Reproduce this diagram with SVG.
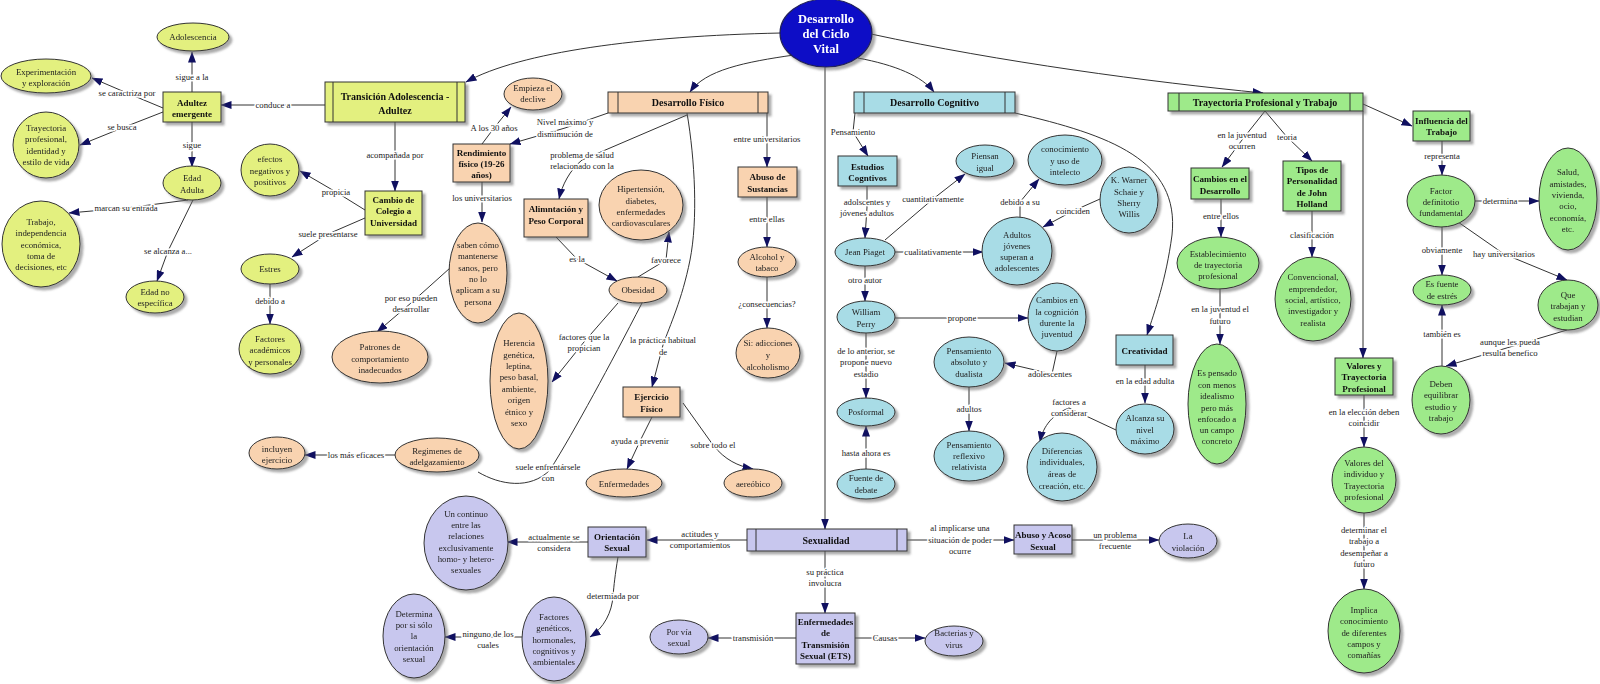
<svg xmlns="http://www.w3.org/2000/svg" width="1600" height="684" viewBox="0 0 1600 684">
<style>
text{font-family:"Liberation Serif","Times New Roman",serif;text-anchor:middle;fill:#222}
.n{font-size:8.8px}
.b{font-size:9px;font-weight:bold;fill:#111}
.t{font-size:10px;font-weight:bold;fill:#111}
.r{font-size:12.5px;font-weight:bold;fill:#fff}
.l{font-size:8.7px;fill:#222;paint-order:stroke;stroke:#fff;stroke-width:3px;stroke-linejoin:round}
.k{fill:none;stroke:#333;stroke-width:1}
.a{marker-end:url(#ar)}
.s{stroke:#333;stroke-width:1}
.bar{stroke:#333;stroke-width:1}
.g1{fill:#e3f07f}
.g2{fill:#9eea8a}
.p{fill:#f9d3b0}
.c{fill:#a8dce6}
.v{fill:#c8c7ee}
.nd{filter:url(#sh)}
</style>
<defs>
<filter id="sh" x="-20%" y="-20%" width="150%" height="150%">
<feDropShadow dx="3" dy="3" stdDeviation="1" flood-color="#666" flood-opacity="0.55"/>
</filter>
<marker id="ar" markerWidth="11" markerHeight="8" refX="10.5" refY="4" orient="auto" markerUnits="userSpaceOnUse">
<path d="M0,0 L11,4 L0,8 Z" fill="#101060"/>
</marker>
</defs>
<rect width="1600" height="684" fill="#fff"/>

<g id="connectors">
<!-- root -->
<path class="k a" d="M781,33 C640,36 520,52 466,82"/>
<path class="k a" d="M794,55 C745,62 705,70 690,92"/>
<path class="k a" d="M858,58 C895,65 922,76 934,92"/>
<path class="k a" d="M871,34 C1000,62 1150,82 1263,93"/>
<path class="k a" d="M825,67 L825,529"/>
<!-- transicion -->
<path class="k a" d="M325,105 L221,105"/>
<text class="l" x="273" y="108">conduce a</text>
<path class="k a" d="M395,122 L395,191"/>
<text class="l" x="395" y="158">acompañada por</text>
<!-- adultez emergente -->
<path class="k a" d="M192,92 L192,52"/>
<text class="l" x="192" y="80">sigue a la</text>
<path class="k a" d="M163,108 L127,93 L92,78"/>
<text class="l" x="127" y="96">se caractriza por</text>
<path class="k a" d="M163,112 L122,128 L80,145"/>
<text class="l" x="122" y="130">se busca</text>
<path class="k a" d="M192,122 L192,167"/>
<text class="l" x="192" y="148">sigue</text>
<!-- edad adulta -->
<path class="k a" d="M188,200 L126,208 L69,213"/>
<text class="l" x="126" y="211">marcan su entrada</text>
<path class="k a" d="M193,200 L168,251 L157,281"/>
<text class="l" x="168" y="254">se alcanza a...</text>
<!-- cambio colegio -->
<path class="k a" d="M365,210 L336,192 L300,171"/>
<text class="l" x="336" y="195">propicia</text>
<path class="k a" d="M365,218 L328,234 L292,257"/>
<text class="l" x="328" y="237">suele presentarse</text>
<path class="k a" d="M270,284 L270,324"/>
<text class="l" x="270" y="304">debido a</text>
<!-- desarrollo fisico -->
<path class="k a" d="M608,113 L565,128 L510,144"/>
<text class="l" x="565" y="125">Nivel máximo y</text>
<text class="l" x="565" y="137">dismimución de</text>
<path class="k a" d="M482,144 L494,128 L511,107"/>
<text class="l" x="494" y="131">A los 30 años</text>
<path class="k a" d="M482,182 L482,222"/>
<text class="l" x="482" y="201">los universitarios</text>
<path class="k a" d="M450,268 L411,303 L377,332"/>
<text class="l" x="411" y="301">por eso pueden</text>
<text class="l" x="411" y="312">desarrollar</text>
<path class="k a" d="M687,115 L582,160 C570,170 562,185 559,199"/>
<text class="l" x="582" y="158">problema de salud</text>
<text class="l" x="582" y="169">relacionado con la</text>
<path class="k a" d="M556,237 L577,259 L617,281"/>
<text class="l" x="577" y="262">es la</text>
<path class="k a" d="M638,277 L666,260 L669,232"/>
<text class="l" x="666" y="263">favorece</text>
<path class="k a" d="M618,303 L584,342 L552,382"/>
<text class="l" x="584" y="340">factores que la</text>
<text class="l" x="584" y="351">propician</text>
<path class="k" d="M642,303 C610,365 575,430 550,470 C530,490 500,485 478,472"/>
<text class="l" x="548" y="470">suele enfrentársele</text>
<text class="l" x="548" y="481">con</text>
<path class="k a" d="M687,113 C695,160 698,220 690,260 C682,300 670,325 663,345 L652,387"/>
<text class="l" x="663" y="343">la práctica habitual</text>
<text class="l" x="663" y="355">de</text>
<path class="k a" d="M652,417 L640,441 L627,469"/>
<text class="l" x="640" y="444">ayuda a prevenir</text>
<path class="k a" d="M683,403 L713,445 C725,460 738,466 753,469"/>
<text class="l" x="713" y="448">sobre todo el</text>
<path class="k a" d="M396,455 L305,455"/>
<text class="l" x="356" y="458">los más eficaces</text>
<path class="k a" d="M767,113 L767,167"/>
<text class="l" x="767" y="142">entre universitarios</text>
<path class="k a" d="M767,197 L767,247"/>
<text class="l" x="767" y="222">entre ellas</text>
<path class="k a" d="M767,277 L767,328"/>
<text class="l" x="767" y="307">¿consecuencias?</text>
<!-- cognitivo -->
<path class="k a" d="M855,113 L853,132 L868,156"/>
<text class="l" x="853" y="135">Pensamiento</text>
<path class="k a" d="M867,186 L867,207 L865,238"/>
<text class="l" x="867" y="205">adolscentes y</text>
<text class="l" x="867" y="216">jóvenes adultos</text>
<path class="k a" d="M885,240 L933,199 L965,174"/>
<text class="l" x="933" y="202">cuantitativamente</text>
<path class="k a" d="M895,252 L983,252"/>
<text class="l" x="933" y="255">cualitativamente</text>
<path class="k a" d="M1020,217 L1020,202 L1039,179"/>
<text class="l" x="1020" y="205">debido a su</text>
<path class="k a" d="M1100,199 L1073,211 L1043,227"/>
<text class="l" x="1073" y="214">coinciden</text>
<path class="k a" d="M865,266 L865,301"/>
<text class="l" x="865" y="283">otro autor</text>
<path class="k a" d="M895,318 L1028,318"/>
<text class="l" x="962" y="321">propone</text>
<path class="k a" d="M1057,351 L1052,374 L1005,363"/>
<text class="l" x="1050" y="377">adolescentes</text>
<path class="k a" d="M969,387 L969,431"/>
<text class="l" x="969" y="412">adultos</text>
<path class="k a" d="M866,333 L866,398"/>
<text class="l" x="866" y="354">de lo anterior, se</text>
<text class="l" x="866" y="365">propone nuevo</text>
<text class="l" x="866" y="377">estadio</text>
<path class="k a" d="M866,469 L866,426"/>
<text class="l" x="866" y="456">hasta ahora es</text>
<path class="k a" d="M1015,113 C1110,135 1180,160 1172,235 C1166,280 1155,310 1147,335"/>
<path class="k a" d="M1145,365 L1145,403"/>
<text class="l" x="1145" y="384">en la edad adulta</text>
<path class="k a" d="M1116,430 L1069,408 C1050,415 1042,430 1040,442"/>
<text class="l" x="1069" y="405">factores a</text>
<text class="l" x="1069" y="416">considerar</text>
<!-- trayectoria -->
<path class="k a" d="M1265,111 L1242,140 L1222,167"/>
<text class="l" x="1242" y="138">en la juventud</text>
<text class="l" x="1242" y="149">ocurren</text>
<path class="k a" d="M1265,111 L1287,137 L1312,161"/>
<text class="l" x="1287" y="140">teoria</text>
<path class="k a" d="M1363,111 L1363,358"/>
<path class="k a" d="M1363,104 L1412,126"/>
<path class="k a" d="M1221,199 L1221,237"/>
<text class="l" x="1221" y="219">entre ellos</text>
<path class="k a" d="M1220,289 L1220,344"/>
<text class="l" x="1220" y="312">en la juventud el</text>
<text class="l" x="1220" y="324">futuro</text>
<path class="k a" d="M1312,211 L1312,257"/>
<text class="l" x="1312" y="238">clasificación</text>
<path class="k a" d="M1364,395 L1364,447"/>
<text class="l" x="1364" y="415">en la elección deben</text>
<text class="l" x="1364" y="426">coincidir</text>
<path class="k a" d="M1364,513 L1364,589"/>
<text class="l" x="1364" y="533">determinar el</text>
<text class="l" x="1364" y="544">trabajo a</text>
<text class="l" x="1364" y="556">desempeñar a</text>
<text class="l" x="1364" y="567">futuro</text>
<path class="k a" d="M1442,141 L1442,175"/>
<text class="l" x="1442" y="159">representa</text>
<path class="k a" d="M1475,201 L1539,201"/>
<text class="l" x="1500" y="204">determina</text>
<path class="k a" d="M1442,227 L1442,275"/>
<text class="l" x="1442" y="253">obviamente</text>
<path class="k a" d="M1458,222 L1504,254 L1567,280"/>
<text class="l" x="1504" y="257">hay universitarios</text>
<path class="k a" d="M1442,366 L1442,305"/>
<text class="l" x="1442" y="337">también es</text>
<path class="k a" d="M1567,330 L1510,347 L1446,366"/>
<text class="l" x="1510" y="345">aunque les pueda</text>
<text class="l" x="1510" y="356">resulta benefico</text>
<!-- sexualidad -->
<path class="k a" d="M747,540 L700,540 L647,540"/>
<text class="l" x="700" y="537">actitudes y</text>
<text class="l" x="700" y="548">comportamientos</text>
<path class="k a" d="M588,542 L507,542"/>
<text class="l" x="554" y="540">actualmente se</text>
<text class="l" x="554" y="551">considera</text>
<path class="k a" d="M618,557 C615,575 614,585 613,596 C612,612 604,628 590,637"/>
<text class="l" x="613" y="599">determiada por</text>
<path class="k a" d="M522,637 L445,637"/>
<text class="l" x="488" y="637">ninguno de los</text>
<text class="l" x="488" y="648">cuales</text>
<path class="k a" d="M907,540 L1014,540"/>
<text class="l" x="960" y="531">al implicarse una</text>
<text class="l" x="960" y="543">situación de poder</text>
<text class="l" x="960" y="554">ocurre</text>
<path class="k a" d="M1072,540 L1159,540"/>
<text class="l" x="1115" y="538">un problema</text>
<text class="l" x="1115" y="549">frecuente</text>
<path class="k a" d="M825,551 L825,613"/>
<text class="l" x="825" y="575">su práctica</text>
<text class="l" x="825" y="586">involucra</text>
<path class="k a" d="M796,638 L708,638"/>
<text class="l" x="753" y="641">transmisión</text>
<path class="k a" d="M855,638 L925,638"/>
<text class="l" x="885" y="641">Causas</text>
</g>

<!-- ROOT -->
<g id="root" class="nd">
<ellipse cx="826" cy="33" rx="46" ry="34" fill="#0b0bc6" stroke="#22225a" stroke-width="1.2"/>
<text class="r"><tspan x="826" y="23">Desarrollo</tspan><tspan x="826" y="38">del Ciclo</tspan><tspan x="826" y="53">Vital</tspan></text>
</g>

<!-- Yellow-green branch -->
<g id="transicion" class="nd">
<rect class="g1 s" x="325" y="82" width="140" height="40"/>
<line class="bar" x1="333" y1="82" x2="333" y2="122"/><line class="bar" x1="457" y1="82" x2="457" y2="122"/>
<text class="t"><tspan x="395" y="100">Transición Adolescencia -</tspan><tspan x="395" y="114">Adultez</tspan></text>
</g>
<g id="adultez-emergente" class="nd">
<rect class="g1 s" x="163" y="92" width="58" height="30"/>
<text class="b"><tspan x="192" y="106">Adultez</tspan><tspan x="192" y="117">emergente</tspan></text>
</g>
<g id="adolescencia" class="nd">
<ellipse class="g1 s" cx="193" cy="37" rx="36" ry="14"/>
<text class="n" x="193" y="40">Adolescencia</text>
</g>
<g id="experimentacion" class="nd">
<ellipse class="g1 s" cx="46" cy="76" rx="45" ry="17"/>
<text class="n"><tspan x="46" y="75">Experimentación</tspan><tspan x="46" y="86">y exploración</tspan></text>
</g>
<g id="trayectoria-identidad" class="nd">
<ellipse class="g1 s" cx="46" cy="145" rx="33" ry="33"/>
<text class="n"><tspan x="46" y="131">Trayectoria</tspan><tspan x="46" y="142">profesional,</tspan><tspan x="46" y="154">identidad y</tspan><tspan x="46" y="165">estilo de vida</tspan></text>
</g>
<g id="edad-adulta" class="nd">
<ellipse class="g1 s" cx="192" cy="183" rx="29" ry="17"/>
<text class="n"><tspan x="192" y="181">Edad</tspan><tspan x="192" y="193">Adulta</tspan></text>
</g>
<g id="trabajo" class="nd">
<ellipse class="g1 s" cx="41" cy="244" rx="39" ry="43"/>
<text class="n"><tspan x="41" y="225">Trabajo,</tspan><tspan x="41" y="236">independencia</tspan><tspan x="41" y="248">económica,</tspan><tspan x="41" y="259">toma de</tspan><tspan x="41" y="270">decisiones, etc</tspan></text>
</g>
<g id="edad-no-especifica" class="nd">
<ellipse class="g1 s" cx="155" cy="297" rx="29" ry="16"/>
<text class="n"><tspan x="155" y="295">Edad no</tspan><tspan x="155" y="306">específica</tspan></text>
</g>
<g id="cambio-colegio" class="nd">
<rect class="g1 s" x="365" y="191" width="57" height="44"/>
<text class="b"><tspan x="393.5" y="203">Cambio de</tspan><tspan x="393.5" y="214">Colegio a</tspan><tspan x="393.5" y="226">Universidad</tspan></text>
</g>
<g id="efectos" class="nd">
<ellipse class="g1 s" cx="270" cy="170" rx="29" ry="26"/>
<text class="n"><tspan x="270" y="162">efectos</tspan><tspan x="270" y="174">negativos y</tspan><tspan x="270" y="185">positivos</tspan></text>
</g>
<g id="estres" class="nd">
<ellipse class="g1 s" cx="270" cy="269" rx="29" ry="15"/>
<text class="n" x="270" y="272">Estres</text>
</g>
<g id="factores-academicos" class="nd">
<ellipse class="g1 s" cx="270" cy="349" rx="31" ry="25"/>
<text class="n"><tspan x="270" y="342">Factores</tspan><tspan x="270" y="353">académicos</tspan><tspan x="270" y="365">y personales</tspan></text>
</g>

<!-- Peach branch -->
<g id="desarrollo-fisico" class="nd">
<rect class="p s" x="608" y="92" width="160" height="21"/>
<line class="bar" x1="618" y1="92" x2="618" y2="113"/><line class="bar" x1="758" y1="92" x2="758" y2="113"/>
<text class="t" x="688" y="106">Desarrollo Físico</text>
</g>
<g id="empieza-declive" class="nd">
<ellipse class="p s" cx="533" cy="94" rx="29" ry="16"/>
<text class="n"><tspan x="533" y="91">Empieza el</tspan><tspan x="533" y="102">declive</tspan></text>
</g>
<g id="rendimiento" class="nd">
<rect class="p s" x="453" y="144" width="57" height="38"/>
<text class="b"><tspan x="481.5" y="156">Rendimiento</tspan><tspan x="481.5" y="167">físico (19-26</tspan><tspan x="481.5" y="178">años)</tspan></text>
</g>
<g id="saben-como" class="nd">
<ellipse class="p s" cx="478" cy="273" rx="29" ry="50"/>
<text class="n"><tspan x="478" y="248">saben cómo</tspan><tspan x="478" y="259">mantenerse</tspan><tspan x="478" y="271">sanos, pero</tspan><tspan x="478" y="282">no lo</tspan><tspan x="478" y="293">aplicam a su</tspan><tspan x="478" y="305">persona</tspan></text>
</g>
<g id="patrones" class="nd">
<ellipse class="p s" cx="380" cy="357" rx="48" ry="26"/>
<text class="n"><tspan x="380" y="350">Patrones de</tspan><tspan x="380" y="362">comportamiento</tspan><tspan x="380" y="373">inadecuados</tspan></text>
</g>
<g id="alimentacion" class="nd">
<rect class="p s" x="524" y="199" width="64" height="38"/>
<text class="b"><tspan x="556" y="212">Alimntación y</tspan><tspan x="556" y="224">Peso Corporal</tspan></text>
</g>
<g id="hipertension" class="nd">
<ellipse class="p s" cx="641" cy="205" rx="42" ry="35"/>
<text class="n"><tspan x="641" y="192">Hipertensión,</tspan><tspan x="641" y="204">diabetes,</tspan><tspan x="641" y="215">enfermedades</tspan><tspan x="641" y="226">cardiovasculares</tspan></text>
</g>
<g id="obesidad" class="nd">
<ellipse class="p s" cx="638" cy="290" rx="29" ry="13"/>
<text class="n" x="638" y="293">Obesidad</text>
</g>
<g id="herencia" class="nd">
<ellipse class="p s" cx="519" cy="381" rx="29" ry="68"/>
<text class="n"><tspan x="519" y="346">Herencia</tspan><tspan x="519" y="358">genética,</tspan><tspan x="519" y="369">leptina,</tspan><tspan x="519" y="380">peso basal,</tspan><tspan x="519" y="392">ambiente,</tspan><tspan x="519" y="403">origen</tspan><tspan x="519" y="415">étnico y</tspan><tspan x="519" y="426">sexo</tspan></text>
</g>
<g id="ejercicio" class="nd">
<rect class="p s" x="623" y="387" width="57" height="30"/>
<text class="b"><tspan x="651.5" y="400">Ejercicio</tspan><tspan x="651.5" y="412">Físico</tspan></text>
</g>
<g id="enfermedades" class="nd">
<ellipse class="p s" cx="624" cy="483" rx="38" ry="14"/>
<text class="n" x="624" y="487">Enfermedades</text>
</g>
<g id="aereobico" class="nd">
<ellipse class="p s" cx="753" cy="483" rx="29" ry="14"/>
<text class="n" x="753" y="487">aereóbico</text>
</g>
<g id="regimenes" class="nd">
<ellipse class="p s" cx="437" cy="455" rx="42" ry="17"/>
<text class="n"><tspan x="437" y="454">Regimenes de</tspan><tspan x="437" y="465">adelgazamiento</tspan></text>
</g>
<g id="incluyen-ejercicio" class="nd">
<ellipse class="p s" cx="277" cy="453" rx="28" ry="16"/>
<text class="n"><tspan x="277" y="452">incluyen</tspan><tspan x="277" y="463">ejercicio</tspan></text>
</g>
<g id="abuso-sustancias" class="nd">
<rect class="p s" x="738" y="167" width="59" height="30"/>
<text class="b"><tspan x="767.5" y="180">Abuso de</tspan><tspan x="767.5" y="192">Sustancias</tspan></text>
</g>
<g id="alcohol" class="nd">
<ellipse class="p s" cx="767" cy="262" rx="29" ry="15"/>
<text class="n"><tspan x="767" y="260">Alcohol y</tspan><tspan x="767" y="271">tabaco</tspan></text>
</g>
<g id="adicciones" class="nd">
<ellipse class="p s" cx="768" cy="353" rx="32" ry="25"/>
<text class="n"><tspan x="768" y="346">Si: adicciones</tspan><tspan x="768" y="358">y</tspan><tspan x="768" y="370">alcoholismo</tspan></text>
</g>

<!-- Blue branch -->
<g id="desarrollo-cognitivo" class="nd">
<rect class="c s" x="854" y="92" width="161" height="21"/>
<line class="bar" x1="864" y1="92" x2="864" y2="113"/><line class="bar" x1="1005" y1="92" x2="1005" y2="113"/>
<text class="t" x="934.5" y="106">Desarrollo Cognitivo</text>
</g>
<g id="estudios-cognitivos" class="nd">
<rect class="c s" x="838" y="156" width="59" height="30"/>
<text class="b"><tspan x="867.5" y="170">Estudios</tspan><tspan x="867.5" y="181">Cogntivos</tspan></text>
</g>
<g id="piensan-igual" class="nd">
<ellipse class="c s" cx="985" cy="161" rx="29" ry="16"/>
<text class="n"><tspan x="985" y="159">Piensan</tspan><tspan x="985" y="171">igual</tspan></text>
</g>
<g id="conocimiento" class="nd">
<ellipse class="c s" cx="1065" cy="160" rx="37" ry="25"/>
<text class="n"><tspan x="1065" y="152">conocimiento</tspan><tspan x="1065" y="164">y uso de</tspan><tspan x="1065" y="175">intelecto</tspan></text>
</g>
<g id="schaie-willis" class="nd">
<ellipse class="c s" cx="1129" cy="200" rx="29" ry="33"/>
<text class="n"><tspan x="1129" y="183">K. Warner</tspan><tspan x="1129" y="195">Schaie y</tspan><tspan x="1129" y="206">Sherry</tspan><tspan x="1129" y="217">Willis</tspan></text>
</g>
<g id="adultos-jovenes" class="nd">
<ellipse class="c s" cx="1017" cy="251" rx="35" ry="34"/>
<text class="n"><tspan x="1017" y="238">Adultos</tspan><tspan x="1017" y="249">jóvenes</tspan><tspan x="1017" y="260">superan a</tspan><tspan x="1017" y="271">adolescentes</tspan></text>
</g>
<g id="jean-piaget" class="nd">
<ellipse class="c s" cx="865" cy="252" rx="30" ry="14"/>
<text class="n" x="865" y="255">Jean Piaget</text>
</g>
<g id="william-perry" class="nd">
<ellipse class="c s" cx="866" cy="317" rx="29" ry="16"/>
<text class="n"><tspan x="866" y="315">William</tspan><tspan x="866" y="327">Perry</tspan></text>
</g>
<g id="cambios-cognicion" class="nd">
<ellipse class="c s" cx="1057" cy="317" rx="29" ry="34"/>
<text class="n"><tspan x="1057" y="303">Cambios en</tspan><tspan x="1057" y="315">la cognición</tspan><tspan x="1057" y="326">durente la</tspan><tspan x="1057" y="337">juventud</tspan></text>
</g>
<g id="pensamiento-absoluto" class="nd">
<ellipse class="c s" cx="969" cy="362" rx="35" ry="25"/>
<text class="n"><tspan x="969" y="354">Pensamiento</tspan><tspan x="969" y="365">absoluto y</tspan><tspan x="969" y="377">dualista</tspan></text>
</g>
<g id="posformal" class="nd">
<ellipse class="c s" cx="866" cy="412" rx="29" ry="14"/>
<text class="n" x="866" y="415">Posformal</text>
</g>
<g id="pensamiento-reflexivo" class="nd">
<ellipse class="c s" cx="969" cy="456" rx="35" ry="25"/>
<text class="n"><tspan x="969" y="448">Pensamiento</tspan><tspan x="969" y="459">reflexivo</tspan><tspan x="969" y="470">relativista</tspan></text>
</g>
<g id="fuente-debate" class="nd">
<ellipse class="c s" cx="866" cy="484" rx="29" ry="15"/>
<text class="n"><tspan x="866" y="481">Fuente de</tspan><tspan x="866" y="493">debate</tspan></text>
</g>
<g id="diferencias" class="nd">
<ellipse class="c s" cx="1062" cy="467" rx="35" ry="34"/>
<text class="n"><tspan x="1062" y="454">Diferencias</tspan><tspan x="1062" y="465">individuales,</tspan><tspan x="1062" y="477">áreas de</tspan><tspan x="1062" y="489">creación, etc.</tspan></text>
</g>
<g id="creatividad" class="nd">
<rect class="c s" x="1116" y="335" width="57" height="30"/>
<text class="b" x="1144.5" y="354">Creatividad</text>
</g>
<g id="alcanza" class="nd">
<ellipse class="c s" cx="1145" cy="429" rx="29" ry="25"/>
<text class="n"><tspan x="1145" y="421">Alcanza su</tspan><tspan x="1145" y="433">nivel</tspan><tspan x="1145" y="444">máximo</tspan></text>
</g>

<!-- Green branch -->
<g id="trayectoria-trabajo" class="nd">
<rect class="g2 s" x="1168" y="93" width="195" height="18"/>
<line class="bar" x1="1179" y1="93" x2="1179" y2="111"/><line class="bar" x1="1350" y1="93" x2="1350" y2="111"/>
<text class="t" x="1265" y="106">Trayectoria Profesional y Trabajo</text>
</g>
<g id="cambios-desarrollo" class="nd">
<rect class="g2 s" x="1191" y="168" width="58" height="31"/>
<text class="b"><tspan x="1220" y="182">Cambios en el</tspan><tspan x="1220" y="194">Desarrollo</tspan></text>
</g>
<g id="tipos-holland" class="nd">
<rect class="g2 s" x="1283" y="161" width="58" height="50"/>
<text class="b"><tspan x="1312" y="173">Tipos de</tspan><tspan x="1312" y="184">Personalidad</tspan><tspan x="1312" y="196">de John</tspan><tspan x="1312" y="207">Holland</tspan></text>
</g>
<g id="establecimiento" class="nd">
<ellipse class="g2 s" cx="1218" cy="263" rx="41" ry="26"/>
<text class="n"><tspan x="1218" y="257">Establecimiento</tspan><tspan x="1218" y="268">de trayectoria</tspan><tspan x="1218" y="279">profesional</tspan></text>
</g>
<g id="es-pensado" class="nd">
<ellipse class="g2 s" cx="1217" cy="404" rx="29" ry="60"/>
<text class="n"><tspan x="1217" y="376">Es pensado</tspan><tspan x="1217" y="388">con menos</tspan><tspan x="1217" y="399">idealismo</tspan><tspan x="1217" y="411">pero más</tspan><tspan x="1217" y="422">enfocado a</tspan><tspan x="1217" y="433">un campo</tspan><tspan x="1217" y="444">concreto</tspan></text>
</g>
<g id="convencional" class="nd">
<ellipse class="g2 s" cx="1313" cy="299" rx="38" ry="42"/>
<text class="n"><tspan x="1313" y="280">Convencional,</tspan><tspan x="1313" y="292">emprendedor,</tspan><tspan x="1313" y="303">social, artístico,</tspan><tspan x="1313" y="314">investigador y</tspan><tspan x="1313" y="326">realista</tspan></text>
</g>
<g id="valores-trayectoria" class="nd">
<rect class="g2 s" x="1335" y="358" width="58" height="37"/>
<text class="b"><tspan x="1364" y="369">Valores y</tspan><tspan x="1364" y="380">Trayectoria</tspan><tspan x="1364" y="392">Profesional</tspan></text>
</g>
<g id="valores-individuo" class="nd">
<ellipse class="g2 s" cx="1364" cy="480" rx="32" ry="33"/>
<text class="n"><tspan x="1364" y="466">Valores del</tspan><tspan x="1364" y="477">individuo y</tspan><tspan x="1364" y="489">Trayectoria</tspan><tspan x="1364" y="500">profesional</tspan></text>
</g>
<g id="implica" class="nd">
<ellipse class="g2 s" cx="1364" cy="631" rx="36" ry="42"/>
<text class="n"><tspan x="1364" y="613">Implica</tspan><tspan x="1364" y="624">conocimiento</tspan><tspan x="1364" y="636">de diferentes</tspan><tspan x="1364" y="647">campos y</tspan><tspan x="1364" y="658">comañías</tspan></text>
</g>
<g id="influencia" class="nd">
<rect class="g2 s" x="1413" y="111" width="57" height="30"/>
<text class="b"><tspan x="1441.5" y="124">Influencia del</tspan><tspan x="1441.5" y="135">Trabajo</tspan></text>
</g>
<g id="factor" class="nd">
<ellipse class="g2 s" cx="1441" cy="201" rx="34" ry="26"/>
<text class="n"><tspan x="1441" y="194">Factor</tspan><tspan x="1441" y="205">definitotio</tspan><tspan x="1441" y="216">fundamental</tspan></text>
</g>
<g id="salud" class="nd">
<ellipse class="g2 s" cx="1568" cy="199" rx="29" ry="51"/>
<text class="n"><tspan x="1568" y="175">Salud,</tspan><tspan x="1568" y="187">amistades,</tspan><tspan x="1568" y="198">vivienda,</tspan><tspan x="1568" y="209">ocio,</tspan><tspan x="1568" y="221">economía,</tspan><tspan x="1568" y="232">etc.</tspan></text>
</g>
<g id="fuente-estres" class="nd">
<ellipse class="g2 s" cx="1442" cy="290" rx="29" ry="15"/>
<text class="n"><tspan x="1442" y="287">Es fuente</tspan><tspan x="1442" y="299">de estrés</tspan></text>
</g>
<g id="que-trabajan" class="nd">
<ellipse class="g2 s" cx="1568" cy="305" rx="30" ry="25"/>
<text class="n"><tspan x="1568" y="298">Que</tspan><tspan x="1568" y="309">trabajan y</tspan><tspan x="1568" y="321">estudian</tspan></text>
</g>
<g id="deben" class="nd">
<ellipse class="g2 s" cx="1441" cy="400" rx="29" ry="34"/>
<text class="n"><tspan x="1441" y="387">Deben</tspan><tspan x="1441" y="398">equilibrar</tspan><tspan x="1441" y="410">estudio y</tspan><tspan x="1441" y="421">trabajo</tspan></text>
</g>

<!-- Lavender branch -->
<g id="sexualidad" class="nd">
<rect class="v s" x="747" y="529" width="160" height="22"/>
<line class="bar" x1="756" y1="529" x2="756" y2="551"/><line class="bar" x1="897" y1="529" x2="897" y2="551"/>
<text class="t" x="826" y="544">Sexualidad</text>
</g>
<g id="orientacion" class="nd">
<rect class="v s" x="588" y="527" width="58" height="30"/>
<text class="b"><tspan x="617" y="540">Orientación</tspan><tspan x="617" y="551">Sexual</tspan></text>
</g>
<g id="continuo" class="nd">
<ellipse class="v s" cx="466" cy="543" rx="42" ry="47"/>
<text class="n"><tspan x="466" y="517">Un continuo</tspan><tspan x="466" y="528">entre las</tspan><tspan x="466" y="539">relaciones</tspan><tspan x="466" y="551">exclusivamente</tspan><tspan x="466" y="562">homo- y hetero-</tspan><tspan x="466" y="573">sexuales</tspan></text>
</g>
<g id="factores-geneticos" class="nd">
<ellipse class="v s" cx="554" cy="639" rx="32" ry="42"/>
<text class="n"><tspan x="554" y="620">Factores</tspan><tspan x="554" y="631">genéticos,</tspan><tspan x="554" y="643">hormonales,</tspan><tspan x="554" y="654">cognitivos y</tspan><tspan x="554" y="665">ambientales</tspan></text>
</g>
<g id="determina" class="nd">
<ellipse class="v s" cx="414" cy="636" rx="31" ry="42"/>
<text class="n"><tspan x="414" y="617">Determina</tspan><tspan x="414" y="628">por si sólo</tspan><tspan x="414" y="639">la</tspan><tspan x="414" y="651">orientación</tspan><tspan x="414" y="662">sexual</tspan></text>
</g>
<g id="por-via-sexual" class="nd">
<ellipse class="v s" cx="679" cy="637" rx="29" ry="17"/>
<text class="n"><tspan x="679" y="635">Por vía</tspan><tspan x="679" y="646">sexual</tspan></text>
</g>
<g id="ets" class="nd">
<rect class="v s" x="796" y="613" width="59" height="51"/>
<text class="b"><tspan x="825.5" y="625">Enfermedades</tspan><tspan x="825.5" y="636">de</tspan><tspan x="825.5" y="648">Transmisión</tspan><tspan x="825.5" y="659">Sexual (ETS)</tspan></text>
</g>
<g id="bacterias" class="nd">
<ellipse class="v s" cx="954" cy="641" rx="29" ry="15"/>
<text class="n"><tspan x="954" y="636">Bacterias y</tspan><tspan x="954" y="648">virus</tspan></text>
</g>
<g id="abuso-acoso" class="nd">
<rect class="v s" x="1014" y="525" width="58" height="29"/>
<text class="b"><tspan x="1043" y="538">Abuso y Acoso</tspan><tspan x="1043" y="550">Sexual</tspan></text>
</g>
<g id="violacion" class="nd">
<ellipse class="v s" cx="1188" cy="541" rx="29" ry="17"/>
<text class="n"><tspan x="1188" y="539">La</tspan><tspan x="1188" y="551">violación</tspan></text>
</g>
</svg>
